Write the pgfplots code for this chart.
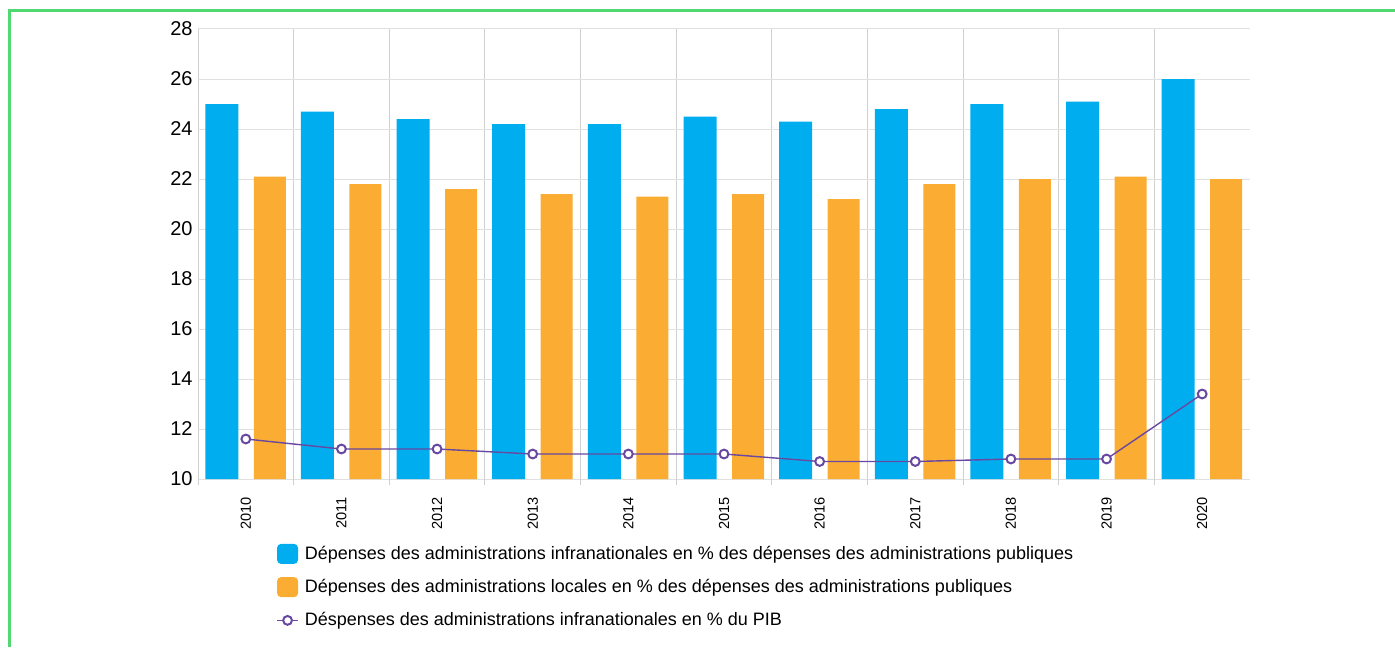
\documentclass[border=0pt]{standalone}
\usepackage{fontspec}
\setmainfont{Liberation Sans}
\usepackage{pgfplots}
\usepackage{pgfplotstable}
\pgfplotsset{compat=1.18}

\definecolor{cblue}{RGB}{0,174,239}
\definecolor{corange}{RGB}{251,172,50}
\definecolor{cpurple}{RGB}{104,72,160}
\definecolor{cgreen}{RGB}{82,216,112}
\definecolor{cgrid}{RGB}{224,224,224}
\definecolor{cvgrid}{RGB}{208,208,208}

% year index, infranational % of public spending, local % of public spending, infranational % of GDP
\pgfplotstableread{
x inf loc pib
0 25.0 22.1 11.6
1 24.7 21.8 11.2
2 24.4 21.6 11.2
3 24.2 21.4 11.0
4 24.2 21.3 11.0
5 24.5 21.4 11.0
6 24.3 21.2 10.7
7 24.8 21.8 10.7
8 25.0 22.0 10.8
9 25.1 22.1 10.8
10 26.0 22.0 13.4
}\data

\begin{document}
\begin{tikzpicture}[x=1pt,y=1pt]
\useasboundingbox (0,0) rectangle (697.5,-323.5);
\draw[cgreen, line width=1.5pt] (4.75,-323.5) -- (4.75,-5.25) -- (697.5,-5.25);
\begin{axis}[
  at={(99pt,-239.5pt)}, anchor=south west,
  scale only axis, width=526pt, height=225pt,
  xmin=-0.5, xmax=10.5, ymin=10, ymax=28,
  ytick={10,12,...,28},
  xtick={0,...,10},
  xticklabels={2010,2011,2012,2013,2014,2015,2016,2017,2018,2019,2020},
  minor xtick={-0.5,0.5,...,9.5},
  ymajorgrids, xminorgrids,
  major grid style={cgrid, line width=0.5pt},
  minor grid style={cvgrid, line width=0.5pt},
  axis line style={draw=none},
  xtick pos=bottom, ytick pos=left,
  tick align=outside,
  major tick length=0pt,
  minor tick length=3pt,
  minor tick style={cvgrid, line width=0.5pt},
  /pgf/number format/assume math mode=true,
  yticklabel style={font=\fontsize{10}{12}\selectfont, inner xsep=2.5pt},
  xticklabel style={font=\fontsize{7.3}{9}\selectfont, rotate=90, anchor=east},
  xticklabel shift=5.5pt,
  legend style={
    at={(0.0741,-0.143)}, anchor=north west,
    draw=none, fill=none, inner sep=0pt,
    font=\fontsize{9}{11}\selectfont,
    row sep=6.5pt,
    nodes={inner xsep=3pt, inner ysep=1pt},
  },
  legend cell align=left,
]
\addplot[ybar, bar width=16.5pt, bar shift=-12pt, fill=cblue, draw=none,
  legend image code/.code={\fill[cblue, rounded corners=2pt] (0pt,-5pt) rectangle (10.5pt,5pt);}]
  table[x=x, y=inf] {\data};
\addlegendentry{Dépenses des administrations infranationales en \% des dépenses des administrations publiques}
\addplot[ybar, bar width=16pt, bar shift=12pt, fill=corange, draw=none,
  legend image code/.code={\fill[corange, rounded corners=2pt] (0pt,-5pt) rectangle (10.5pt,5pt);}]
  table[x=x, y=loc] {\data};
\addlegendentry{Dépenses des administrations locales en \% des dépenses des administrations publiques}
\addplot[cpurple, line width=0.7pt, mark=*, mark size=2.2pt,
  mark options={fill=white, draw=cpurple, line width=1pt},
  legend image code/.code={\draw[cpurple, line width=0.7pt] (0pt,0pt) -- (10.5pt,0pt);
    \draw[cpurple, fill=white, line width=1pt] (5.25pt,0pt) circle (2.2pt);}]
  table[x=x, y=pib] {\data};
\addlegendentry{Déspenses des administrations infranationales en \% du PIB}
\end{axis}
\end{tikzpicture}
\end{document}
